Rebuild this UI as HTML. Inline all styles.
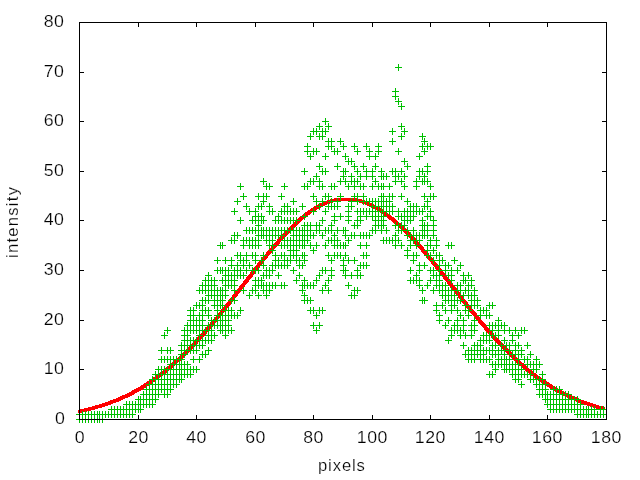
<!DOCTYPE html>
<html lang="en"><head><meta charset="utf-8"><title>intensity vs pixels</title>
<style>html,body{margin:0;padding:0;background:#fff}body{width:640px;height:480px;overflow:hidden}svg{display:block}text{font-family:"Liberation Sans","DejaVu Sans",sans-serif;font-size:16px;fill:#000;stroke:#fff;stroke-width:0.2px}</style></head><body>
<svg width="640" height="480" viewBox="0 0 640 480">
<rect width="640" height="480" fill="#fff"/>
<path d="M78 410h1v3h-1zM79 409h3v4h-3zM82 409h2v3h-2zM84 408h3v4h-3zM87 408h1v3h-1zM88 407h3v4h-3zM91 407h1v3h-1zM92 406h3v4h-3zM95 405h3v4h-3zM98 405h1v3h-1zM99 404h3v4h-3zM102 403h3v4h-3zM105 402h3v4h-3zM108 401h2v4h-2zM110 400h1v5h-1zM111 400h2v4h-2zM113 399h3v4h-3zM116 398h2v4h-2zM118 397h1v5h-1zM119 397h1v4h-1zM120 396h1v5h-1zM121 396h1v4h-1zM122 395h1v5h-1zM123 395h2v4h-2zM125 394h2v4h-2zM127 393h1v5h-1zM128 393h1v4h-1zM129 392h1v5h-1zM130 392h1v4h-1zM131 391h1v5h-1zM132 390h2v5h-2zM134 389h1v5h-1zM135 389h1v4h-1zM136 388h1v5h-1zM137 388h1v4h-1zM138 387h1v5h-1zM139 387h1v4h-1zM140 386h1v5h-1zM141 385h2v5h-2zM143 384h1v5h-1zM144 383h2v5h-2zM146 382h1v5h-1zM147 381h2v5h-2zM149 380h1v5h-1zM150 379h2v5h-2zM152 378h1v5h-1zM153 377h2v5h-2zM155 376h1v5h-1zM156 375h1v5h-1zM157 374h1v6h-1zM158 374h1v5h-1zM159 373h1v5h-1zM160 372h1v5h-1zM161 371h1v6h-1zM162 371h1v5h-1zM163 370h1v5h-1zM164 369h1v5h-1zM165 368h1v6h-1zM166 367h1v6h-1zM167 366h1v6h-1zM168 366h1v5h-1zM169 365h1v5h-1zM170 364h1v5h-1zM171 363h1v6h-1zM172 362h1v6h-1zM173 361h1v6h-1zM174 360h1v6h-1zM175 359h1v6h-1zM176 359h1v5h-1zM177 358h1v5h-1zM178 357h1v5h-1zM179 356h1v6h-1zM180 355h1v6h-1zM181 354h1v6h-1zM182 353h1v6h-1zM183 352h1v6h-1zM184 351h1v6h-1zM185 350h1v6h-1zM186 349h1v6h-1zM187 348h1v6h-1zM188 347h1v6h-1zM189 346h1v6h-1zM190 345h1v6h-1zM191 344h1v6h-1zM192 343h1v6h-1zM193 342h1v6h-1zM194 341h1v6h-1zM195 339h1v7h-1zM196 338h1v7h-1zM197 337h1v7h-1zM198 336h1v6h-1zM199 335h1v6h-1zM200 334h1v6h-1zM201 333h1v6h-1zM202 332h1v6h-1zM203 331h1v6h-1zM204 329h1v7h-1zM205 328h1v7h-1zM206 327h1v7h-1zM207 326h1v6h-1zM208 325h1v6h-1zM209 324h1v6h-1zM210 322h1v7h-1zM211 321h1v7h-1zM212 320h1v7h-1zM213 319h1v6h-1zM214 318h1v6h-1zM215 317h1v6h-1zM216 315h1v7h-1zM217 314h1v7h-1zM218 313h1v6h-1zM219 312h1v6h-1zM220 310h1v7h-1zM221 309h1v7h-1zM222 308h1v7h-1zM223 307h1v6h-1zM224 305h1v7h-1zM225 304h1v7h-1zM226 303h1v7h-1zM227 302h1v6h-1zM228 300h1v7h-1zM229 299h1v7h-1zM230 298h1v7h-1zM231 297h1v6h-1zM232 295h1v7h-1zM233 294h1v7h-1zM234 293h1v7h-1zM235 291h1v7h-1zM236 290h1v7h-1zM237 289h1v7h-1zM238 288h1v6h-1zM239 286h1v7h-1zM240 285h1v7h-1zM241 284h1v7h-1zM242 283h1v6h-1zM243 281h1v7h-1zM244 280h1v7h-1zM245 279h1v6h-1zM246 277h1v7h-1zM247 276h1v7h-1zM248 275h1v7h-1zM249 274h1v6h-1zM250 272h1v7h-1zM251 271h1v7h-1zM252 270h1v7h-1zM253 268h1v7h-1zM254 267h1v7h-1zM255 266h1v7h-1zM256 265h1v6h-1zM257 263h1v7h-1zM258 262h1v7h-1zM259 261h1v7h-1zM260 260h1v6h-1zM261 258h1v7h-1zM262 257h1v7h-1zM263 256h1v7h-1zM264 255h1v6h-1zM265 254h1v6h-1zM266 252h1v7h-1zM267 251h1v7h-1zM268 250h1v6h-1zM269 249h1v6h-1zM270 248h1v6h-1zM271 246h1v7h-1zM272 245h1v7h-1zM273 244h1v6h-1zM274 243h1v6h-1zM275 242h1v6h-1zM276 241h1v6h-1zM277 239h1v7h-1zM278 238h1v7h-1zM279 237h1v7h-1zM280 236h1v6h-1zM281 235h1v6h-1zM282 234h1v6h-1zM283 233h1v6h-1zM284 232h1v6h-1zM285 231h1v6h-1zM286 230h1v6h-1zM287 229h1v6h-1zM288 228h1v6h-1zM289 227h1v6h-1zM290 226h1v6h-1zM291 225h1v6h-1zM292 224h1v6h-1zM293 223h1v6h-1zM294 222h1v6h-1zM295 221h1v6h-1zM296 220h1v6h-1zM297 219h1v6h-1zM298 218h1v6h-1zM299 217h1v6h-1zM300 216h1v6h-1zM301 216h1v5h-1zM302 215h1v5h-1zM303 214h1v5h-1zM304 213h1v6h-1zM305 212h1v6h-1zM306 212h1v5h-1zM307 211h1v5h-1zM308 210h2v5h-2zM310 209h1v5h-1zM311 208h1v5h-1zM312 208h1v4h-1zM313 207h1v5h-1zM314 206h2v5h-2zM316 205h1v5h-1zM317 205h1v4h-1zM318 204h1v5h-1zM319 204h1v4h-1zM320 203h1v5h-1zM321 203h1v4h-1zM322 202h1v5h-1zM323 202h1v4h-1zM324 201h1v5h-1zM325 201h2v4h-2zM327 200h3v4h-3zM330 199h3v4h-3zM333 199h1v3h-1zM334 198h3v4h-3zM337 198h18v3h-18zM355 198h3v4h-3zM358 199h1v3h-1zM359 199h3v4h-3zM362 200h3v4h-3zM365 201h2v4h-2zM367 202h2v4h-2zM369 202h1v5h-1zM370 203h1v4h-1zM371 203h1v5h-1zM372 204h1v4h-1zM373 204h1v5h-1zM374 205h1v4h-1zM375 205h1v5h-1zM376 206h1v4h-1zM377 206h1v5h-1zM378 207h2v5h-2zM380 208h1v5h-1zM381 209h2v5h-2zM383 210h1v5h-1zM384 211h2v5h-2zM386 212h1v5h-1zM387 213h1v5h-1zM388 214h1v5h-1zM389 214h1v6h-1zM390 215h1v5h-1zM391 216h1v5h-1zM392 217h1v5h-1zM393 217h1v6h-1zM394 218h1v6h-1zM395 219h1v6h-1zM396 220h1v6h-1zM397 221h1v5h-1zM398 222h1v5h-1zM399 223h1v5h-1zM400 223h1v6h-1zM401 224h1v6h-1zM402 225h1v6h-1zM403 226h1v6h-1zM404 227h1v6h-1zM405 228h1v6h-1zM406 229h1v6h-1zM407 230h1v6h-1zM408 231h1v6h-1zM409 232h1v6h-1zM410 233h1v6h-1zM411 234h1v6h-1zM412 235h1v6h-1zM413 236h1v7h-1zM414 237h1v7h-1zM415 238h1v7h-1zM416 240h1v6h-1zM417 241h1v6h-1zM418 242h1v6h-1zM419 243h1v6h-1zM420 244h1v6h-1zM421 245h1v7h-1zM422 246h1v7h-1zM423 247h1v7h-1zM424 249h1v6h-1zM425 250h1v6h-1zM426 251h1v7h-1zM427 252h1v7h-1zM428 253h1v7h-1zM429 255h1v6h-1zM430 256h1v6h-1zM431 257h1v7h-1zM432 258h1v7h-1zM433 259h1v7h-1zM434 261h1v6h-1zM435 262h1v7h-1zM436 263h1v7h-1zM437 264h1v7h-1zM438 266h1v6h-1zM439 267h1v7h-1zM440 268h1v7h-1zM441 269h1v7h-1zM442 271h1v6h-1zM443 272h1v7h-1zM444 273h1v7h-1zM445 274h1v7h-1zM446 276h1v6h-1zM447 277h1v7h-1zM448 278h1v7h-1zM449 279h1v7h-1zM450 281h1v7h-1zM451 282h1v7h-1zM452 283h1v7h-1zM453 285h1v6h-1zM454 286h1v7h-1zM455 287h1v7h-1zM456 288h1v7h-1zM457 290h1v6h-1zM458 291h1v7h-1zM459 292h1v7h-1zM460 293h1v7h-1zM461 295h1v7h-1zM462 296h1v7h-1zM463 297h1v7h-1zM464 299h1v6h-1zM465 300h1v7h-1zM466 301h1v7h-1zM467 302h1v7h-1zM468 304h1v6h-1zM469 305h1v7h-1zM470 306h1v7h-1zM471 307h1v7h-1zM472 309h1v6h-1zM473 310h1v6h-1zM474 311h1v7h-1zM475 312h1v7h-1zM476 313h1v7h-1zM477 315h1v6h-1zM478 316h1v7h-1zM479 317h1v7h-1zM480 318h1v7h-1zM481 320h1v6h-1zM482 321h1v6h-1zM483 322h1v6h-1zM484 323h1v7h-1zM485 324h1v7h-1zM486 325h1v7h-1zM487 327h1v6h-1zM488 328h1v6h-1zM489 329h1v6h-1zM490 330h1v6h-1zM491 331h1v7h-1zM492 332h1v7h-1zM493 333h1v7h-1zM494 335h1v6h-1zM495 336h1v6h-1zM496 337h1v6h-1zM497 338h1v6h-1zM498 339h1v6h-1zM499 340h1v6h-1zM500 341h1v6h-1zM501 342h1v6h-1zM502 343h1v6h-1zM503 344h1v6h-1zM504 345h1v6h-1zM505 346h1v6h-1zM506 347h1v6h-1zM507 348h1v6h-1zM508 349h1v6h-1zM509 350h1v6h-1zM510 351h1v6h-1zM511 352h1v6h-1zM512 353h1v6h-1zM513 354h1v6h-1zM514 355h1v6h-1zM515 356h1v6h-1zM516 357h1v6h-1zM517 358h1v6h-1zM518 359h1v6h-1zM519 360h1v6h-1zM520 361h1v5h-1zM521 362h1v5h-1zM522 363h1v5h-1zM523 363h1v6h-1zM524 364h1v6h-1zM525 365h1v6h-1zM526 366h1v6h-1zM527 367h1v5h-1zM528 368h1v5h-1zM529 369h1v5h-1zM530 369h1v6h-1zM531 370h1v6h-1zM532 371h1v5h-1zM533 372h1v5h-1zM534 373h1v5h-1zM535 373h1v6h-1zM536 374h1v5h-1zM537 375h1v5h-1zM538 376h2v5h-2zM540 377h1v5h-1zM541 378h2v5h-2zM543 379h1v5h-1zM544 380h2v5h-2zM546 381h1v5h-1zM547 382h2v5h-2zM549 383h1v5h-1zM550 384h2v5h-2zM552 385h1v5h-1zM553 386h1v4h-1zM554 386h1v5h-1zM555 387h2v5h-2zM557 388h1v5h-1zM558 389h1v4h-1zM559 389h1v5h-1zM560 390h1v4h-1zM561 390h1v5h-1zM562 391h1v4h-1zM563 391h1v5h-1zM564 392h1v4h-1zM565 392h1v5h-1zM566 393h1v4h-1zM567 393h1v5h-1zM568 394h1v4h-1zM569 394h1v5h-1zM570 395h1v4h-1zM571 395h1v5h-1zM572 396h2v4h-2zM574 397h2v4h-2zM576 397h1v5h-1zM577 398h1v4h-1zM578 398h1v5h-1zM579 399h2v4h-2zM581 400h3v4h-3zM584 401h3v4h-3zM587 402h3v4h-3zM590 403h3v4h-3zM593 404h3v4h-3zM596 405h3v4h-3zM599 406h1v3h-1zM600 406h3v4h-3zM603 407h2v3h-2z" fill="#ff0000" shape-rendering="crispEdges"/>
<path d="M76 419.5h7M79.5 416v7M76 414.5h7M79.5 411v7M79 419.5h7M82.5 416v7M79 414.5h7M82.5 411v7M82 419.5h7M85.5 416v7M82 414.5h7M85.5 411v7M85 419.5h7M88.5 416v7M85 414.5h7M88.5 411v7M88 419.5h7M91.5 416v7M88 414.5h7M91.5 411v7M91 419.5h7M94.5 416v7M91 414.5h7M94.5 411v7M94 419.5h7M97.5 416v7M94 414.5h7M97.5 411v7M96 419.5h7M99.5 416v7M96 414.5h7M99.5 411v7M99 419.5h7M102.5 416v7M99 414.5h7M102.5 411v7M102 414.5h7M105.5 411v7M105 414.5h7M108.5 411v7M108 414.5h7M111.5 411v7M108 409.5h7M111.5 406v7M111 414.5h7M114.5 411v7M111 409.5h7M114.5 406v7M114 414.5h7M117.5 411v7M114 409.5h7M117.5 406v7M117 414.5h7M120.5 411v7M117 409.5h7M120.5 406v7M120 414.5h7M123.5 411v7M120 409.5h7M123.5 406v7M123 414.5h7M126.5 411v7M123 409.5h7M126.5 406v7M123 404.5h7M126.5 401v7M126 414.5h7M129.5 411v7M126 409.5h7M129.5 406v7M126 404.5h7M129.5 401v7M129 414.5h7M132.5 411v7M129 409.5h7M132.5 406v7M129 404.5h7M132.5 401v7M132 409.5h7M135.5 406v7M132 404.5h7M135.5 401v7M135 409.5h7M138.5 406v7M135 404.5h7M138.5 401v7M135 399.5h7M138.5 396v7M137 409.5h7M140.5 406v7M137 404.5h7M140.5 401v7M137 399.5h7M140.5 396v7M140 404.5h7M143.5 401v7M140 399.5h7M143.5 396v7M140 394.5h7M143.5 391v7M143 404.5h7M146.5 401v7M143 399.5h7M146.5 396v7M143 394.5h7M146.5 391v7M143 389.5h7M146.5 386v7M146 404.5h7M149.5 401v7M146 399.5h7M149.5 396v7M146 394.5h7M149.5 391v7M146 389.5h7M149.5 386v7M146 384.5h7M149.5 381v7M149 404.5h7M152.5 401v7M149 399.5h7M152.5 396v7M149 394.5h7M152.5 391v7M149 389.5h7M152.5 386v7M149 384.5h7M152.5 381v7M149 379.5h7M152.5 376v7M152 399.5h7M155.5 396v7M152 394.5h7M155.5 391v7M152 389.5h7M155.5 386v7M152 384.5h7M155.5 381v7M152 379.5h7M155.5 376v7M152 374.5h7M155.5 371v7M155 394.5h7M158.5 391v7M155 389.5h7M158.5 386v7M155 384.5h7M158.5 381v7M155 379.5h7M158.5 376v7M155 374.5h7M158.5 371v7M155 369.5h7M158.5 366v7M158 389.5h7M161.5 386v7M158 384.5h7M161.5 381v7M158 379.5h7M161.5 376v7M158 374.5h7M161.5 371v7M158 369.5h7M161.5 366v7M158 359.5h7M161.5 356v7M158 350.5h7M161.5 347v7M161 394.5h7M164.5 391v7M161 389.5h7M164.5 386v7M161 384.5h7M164.5 381v7M161 379.5h7M164.5 376v7M161 374.5h7M164.5 371v7M161 369.5h7M164.5 366v7M161 359.5h7M164.5 356v7M161 335.5h7M164.5 332v7M164 394.5h7M167.5 391v7M164 389.5h7M167.5 386v7M164 384.5h7M167.5 381v7M164 379.5h7M167.5 376v7M164 374.5h7M167.5 371v7M164 369.5h7M167.5 366v7M164 359.5h7M167.5 356v7M164 350.5h7M167.5 347v7M164 330.5h7M167.5 327v7M167 389.5h7M170.5 386v7M167 384.5h7M170.5 381v7M167 379.5h7M170.5 376v7M167 374.5h7M170.5 371v7M167 369.5h7M170.5 366v7M167 364.5h7M170.5 361v7M167 359.5h7M170.5 356v7M167 350.5h7M170.5 347v7M170 384.5h7M173.5 381v7M170 379.5h7M173.5 376v7M170 374.5h7M173.5 371v7M170 369.5h7M173.5 366v7M170 364.5h7M173.5 361v7M170 359.5h7M173.5 356v7M173 384.5h7M176.5 381v7M173 379.5h7M176.5 376v7M173 374.5h7M176.5 371v7M173 369.5h7M176.5 366v7M173 364.5h7M176.5 361v7M173 359.5h7M176.5 356v7M176 379.5h7M179.5 376v7M176 374.5h7M179.5 371v7M176 369.5h7M179.5 366v7M176 364.5h7M179.5 361v7M176 359.5h7M179.5 356v7M178 379.5h7M181.5 376v7M178 374.5h7M181.5 371v7M178 369.5h7M181.5 366v7M178 364.5h7M181.5 361v7M178 359.5h7M181.5 356v7M178 354.5h7M181.5 351v7M178 350.5h7M181.5 347v7M178 345.5h7M181.5 342v7M181 374.5h7M184.5 371v7M181 369.5h7M184.5 366v7M181 364.5h7M184.5 361v7M181 354.5h7M184.5 351v7M181 350.5h7M184.5 347v7M181 345.5h7M184.5 342v7M181 340.5h7M184.5 337v7M181 335.5h7M184.5 332v7M181 330.5h7M184.5 327v7M184 374.5h7M187.5 371v7M184 369.5h7M187.5 366v7M184 364.5h7M187.5 361v7M184 350.5h7M187.5 347v7M184 345.5h7M187.5 342v7M184 340.5h7M187.5 337v7M184 335.5h7M187.5 332v7M184 330.5h7M187.5 327v7M184 325.5h7M187.5 322v7M187 374.5h7M190.5 371v7M187 369.5h7M190.5 366v7M187 350.5h7M190.5 347v7M187 345.5h7M190.5 342v7M187 340.5h7M190.5 337v7M187 330.5h7M190.5 327v7M187 325.5h7M190.5 322v7M187 320.5h7M190.5 317v7M187 315.5h7M190.5 312v7M187 310.5h7M190.5 307v7M190 369.5h7M193.5 366v7M190 359.5h7M193.5 356v7M190 350.5h7M193.5 347v7M190 345.5h7M193.5 342v7M190 340.5h7M193.5 337v7M190 330.5h7M193.5 327v7M190 325.5h7M193.5 322v7M190 320.5h7M193.5 317v7M190 315.5h7M193.5 312v7M190 310.5h7M193.5 307v7M193 369.5h7M196.5 366v7M193 350.5h7M196.5 347v7M193 345.5h7M196.5 342v7M193 340.5h7M196.5 337v7M193 330.5h7M196.5 327v7M193 325.5h7M196.5 322v7M193 320.5h7M196.5 317v7M193 305.5h7M196.5 302v7M196 359.5h7M199.5 356v7M196 345.5h7M199.5 342v7M196 340.5h7M199.5 337v7M196 335.5h7M199.5 332v7M196 330.5h7M199.5 327v7M196 325.5h7M199.5 322v7M196 320.5h7M199.5 317v7M196 315.5h7M199.5 312v7M196 305.5h7M199.5 302v7M196 290.5h7M199.5 287v7M199 354.5h7M202.5 351v7M199 345.5h7M202.5 342v7M199 340.5h7M202.5 337v7M199 330.5h7M202.5 327v7M199 325.5h7M202.5 322v7M199 320.5h7M202.5 317v7M199 315.5h7M202.5 312v7M199 310.5h7M202.5 307v7M199 305.5h7M202.5 302v7M199 300.5h7M202.5 297v7M199 290.5h7M202.5 287v7M199 285.5h7M202.5 282v7M202 354.5h7M205.5 351v7M202 340.5h7M205.5 337v7M202 330.5h7M205.5 327v7M202 310.5h7M205.5 307v7M202 300.5h7M205.5 297v7M202 290.5h7M205.5 287v7M202 285.5h7M205.5 282v7M202 280.5h7M205.5 277v7M205 350.5h7M208.5 347v7M205 340.5h7M208.5 337v7M205 335.5h7M208.5 332v7M205 330.5h7M208.5 327v7M205 325.5h7M208.5 322v7M205 315.5h7M208.5 312v7M205 310.5h7M208.5 307v7M205 300.5h7M208.5 297v7M205 295.5h7M208.5 292v7M205 290.5h7M208.5 287v7M205 285.5h7M208.5 282v7M205 280.5h7M208.5 277v7M205 275.5h7M208.5 272v7M208 340.5h7M211.5 337v7M208 335.5h7M211.5 332v7M208 330.5h7M211.5 327v7M208 325.5h7M211.5 322v7M208 320.5h7M211.5 317v7M208 295.5h7M211.5 292v7M208 290.5h7M211.5 287v7M208 285.5h7M211.5 282v7M208 280.5h7M211.5 277v7M211 335.5h7M214.5 332v7M211 325.5h7M214.5 322v7M211 320.5h7M214.5 317v7M211 305.5h7M214.5 302v7M211 300.5h7M214.5 297v7M211 295.5h7M214.5 292v7M211 290.5h7M214.5 287v7M211 285.5h7M214.5 282v7M211 280.5h7M214.5 277v7M214 325.5h7M217.5 322v7M214 320.5h7M217.5 317v7M214 315.5h7M217.5 312v7M214 310.5h7M217.5 307v7M214 305.5h7M217.5 302v7M214 300.5h7M217.5 297v7M214 295.5h7M217.5 292v7M214 290.5h7M217.5 287v7M214 270.5h7M217.5 267v7M214 260.5h7M217.5 257v7M217 330.5h7M220.5 327v7M217 325.5h7M220.5 322v7M217 320.5h7M220.5 317v7M217 315.5h7M220.5 312v7M217 305.5h7M220.5 302v7M217 300.5h7M220.5 297v7M217 295.5h7M220.5 292v7M217 290.5h7M220.5 287v7M217 270.5h7M220.5 267v7M217 245.5h7M220.5 242v7M219 330.5h7M222.5 327v7M219 325.5h7M222.5 322v7M219 320.5h7M222.5 317v7M219 315.5h7M222.5 312v7M219 305.5h7M222.5 302v7M219 300.5h7M222.5 297v7M219 295.5h7M222.5 292v7M219 290.5h7M222.5 287v7M219 280.5h7M222.5 277v7M219 270.5h7M222.5 267v7M219 245.5h7M222.5 242v7M222 335.5h7M225.5 332v7M222 330.5h7M225.5 327v7M222 325.5h7M225.5 322v7M222 320.5h7M225.5 317v7M222 315.5h7M225.5 312v7M222 310.5h7M225.5 307v7M222 295.5h7M225.5 292v7M222 290.5h7M225.5 287v7M222 285.5h7M225.5 282v7M222 280.5h7M225.5 277v7M222 275.5h7M225.5 272v7M222 270.5h7M225.5 267v7M222 260.5h7M225.5 257v7M225 330.5h7M228.5 327v7M225 325.5h7M228.5 322v7M225 320.5h7M228.5 317v7M225 315.5h7M228.5 312v7M225 310.5h7M228.5 307v7M225 285.5h7M228.5 282v7M225 280.5h7M228.5 277v7M225 275.5h7M228.5 272v7M225 270.5h7M228.5 267v7M228 330.5h7M231.5 327v7M228 315.5h7M231.5 312v7M228 310.5h7M231.5 307v7M228 300.5h7M231.5 297v7M228 285.5h7M231.5 282v7M228 280.5h7M231.5 277v7M228 275.5h7M231.5 272v7M228 265.5h7M231.5 262v7M228 260.5h7M231.5 257v7M228 240.5h7M231.5 237v7M231 315.5h7M234.5 312v7M231 300.5h7M234.5 297v7M231 290.5h7M234.5 287v7M231 285.5h7M234.5 282v7M231 280.5h7M234.5 277v7M231 275.5h7M234.5 272v7M231 270.5h7M234.5 267v7M231 240.5h7M234.5 237v7M231 235.5h7M234.5 232v7M231 211.5h7M234.5 208v7M234 315.5h7M237.5 312v7M234 275.5h7M237.5 272v7M234 270.5h7M237.5 267v7M234 265.5h7M237.5 262v7M234 255.5h7M237.5 252v7M234 235.5h7M237.5 232v7M234 201.5h7M237.5 198v7M237 310.5h7M240.5 307v7M237 275.5h7M240.5 272v7M237 270.5h7M240.5 267v7M237 260.5h7M240.5 257v7M237 255.5h7M240.5 252v7M237 220.5h7M240.5 217v7M237 186.5h7M240.5 183v7M240 290.5h7M243.5 287v7M240 275.5h7M243.5 272v7M240 265.5h7M243.5 262v7M240 260.5h7M243.5 257v7M240 245.5h7M243.5 242v7M240 240.5h7M243.5 237v7M240 196.5h7M243.5 193v7M243 270.5h7M246.5 267v7M243 260.5h7M246.5 257v7M243 255.5h7M246.5 252v7M243 240.5h7M246.5 237v7M243 230.5h7M246.5 227v7M243 206.5h7M246.5 203v7M246 295.5h7M249.5 292v7M246 265.5h7M249.5 262v7M246 245.5h7M249.5 242v7M246 240.5h7M249.5 237v7M246 230.5h7M249.5 227v7M246 211.5h7M249.5 208v7M249 290.5h7M252.5 287v7M249 270.5h7M252.5 267v7M249 255.5h7M252.5 252v7M249 245.5h7M252.5 242v7M249 240.5h7M252.5 237v7M249 230.5h7M252.5 227v7M249 220.5h7M252.5 217v7M252 290.5h7M255.5 287v7M252 285.5h7M255.5 282v7M252 280.5h7M255.5 277v7M252 270.5h7M255.5 267v7M252 260.5h7M255.5 257v7M252 255.5h7M255.5 252v7M252 245.5h7M255.5 242v7M252 240.5h7M255.5 237v7M252 230.5h7M255.5 227v7M252 220.5h7M255.5 217v7M252 216.5h7M255.5 213v7M252 211.5h7M255.5 208v7M255 295.5h7M258.5 292v7M255 285.5h7M258.5 282v7M255 280.5h7M258.5 277v7M255 270.5h7M258.5 267v7M255 245.5h7M258.5 242v7M255 240.5h7M258.5 237v7M255 235.5h7M258.5 232v7M255 230.5h7M258.5 227v7M255 225.5h7M258.5 222v7M255 220.5h7M258.5 217v7M255 216.5h7M258.5 213v7M255 206.5h7M258.5 203v7M255 196.5h7M258.5 193v7M258 285.5h7M261.5 282v7M258 280.5h7M261.5 277v7M258 260.5h7M261.5 257v7M258 235.5h7M261.5 232v7M258 230.5h7M261.5 227v7M258 220.5h7M261.5 217v7M258 216.5h7M261.5 213v7M258 206.5h7M261.5 203v7M260 290.5h7M263.5 287v7M260 285.5h7M263.5 282v7M260 275.5h7M263.5 272v7M260 265.5h7M263.5 262v7M260 255.5h7M263.5 252v7M260 235.5h7M263.5 232v7M260 230.5h7M263.5 227v7M260 220.5h7M263.5 217v7M260 201.5h7M263.5 198v7M260 196.5h7M263.5 193v7M260 181.5h7M263.5 178v7M263 295.5h7M266.5 292v7M263 290.5h7M266.5 287v7M263 285.5h7M266.5 282v7M263 275.5h7M266.5 272v7M263 270.5h7M266.5 267v7M263 240.5h7M266.5 237v7M263 235.5h7M266.5 232v7M263 230.5h7M266.5 227v7M263 196.5h7M266.5 193v7M263 186.5h7M266.5 183v7M266 290.5h7M269.5 287v7M266 285.5h7M269.5 282v7M266 275.5h7M269.5 272v7M266 270.5h7M269.5 267v7M266 245.5h7M269.5 242v7M266 240.5h7M269.5 237v7M266 235.5h7M269.5 232v7M266 230.5h7M269.5 227v7M266 211.5h7M269.5 208v7M266 206.5h7M269.5 203v7M266 186.5h7M269.5 183v7M269 285.5h7M272.5 282v7M269 270.5h7M272.5 267v7M269 265.5h7M272.5 262v7M269 250.5h7M272.5 247v7M269 245.5h7M272.5 242v7M269 240.5h7M272.5 237v7M269 235.5h7M272.5 232v7M269 230.5h7M272.5 227v7M269 211.5h7M272.5 208v7M272 285.5h7M275.5 282v7M272 265.5h7M275.5 262v7M272 260.5h7M275.5 257v7M272 255.5h7M275.5 252v7M272 235.5h7M275.5 232v7M272 230.5h7M275.5 227v7M272 220.5h7M275.5 217v7M275 275.5h7M278.5 272v7M275 265.5h7M278.5 262v7M275 260.5h7M278.5 257v7M275 235.5h7M278.5 232v7M275 230.5h7M278.5 227v7M275 220.5h7M278.5 217v7M275 216.5h7M278.5 213v7M278 285.5h7M281.5 282v7M278 265.5h7M281.5 262v7M278 255.5h7M281.5 252v7M278 245.5h7M281.5 242v7M278 235.5h7M281.5 232v7M278 230.5h7M281.5 227v7M278 220.5h7M281.5 217v7M278 211.5h7M281.5 208v7M278 196.5h7M281.5 193v7M281 285.5h7M284.5 282v7M281 265.5h7M284.5 262v7M281 260.5h7M284.5 257v7M281 255.5h7M284.5 252v7M281 245.5h7M284.5 242v7M281 240.5h7M284.5 237v7M281 230.5h7M284.5 227v7M281 220.5h7M284.5 217v7M281 211.5h7M284.5 208v7M281 206.5h7M284.5 203v7M281 186.5h7M284.5 183v7M284 265.5h7M287.5 262v7M284 260.5h7M287.5 257v7M284 245.5h7M287.5 242v7M284 240.5h7M287.5 237v7M284 230.5h7M287.5 227v7M284 220.5h7M287.5 217v7M284 211.5h7M287.5 208v7M284 206.5h7M287.5 203v7M287 260.5h7M290.5 257v7M287 255.5h7M290.5 252v7M287 250.5h7M290.5 247v7M287 245.5h7M290.5 242v7M287 240.5h7M290.5 237v7M287 230.5h7M290.5 227v7M287 220.5h7M290.5 217v7M287 211.5h7M290.5 208v7M290 270.5h7M293.5 267v7M290 255.5h7M293.5 252v7M290 250.5h7M293.5 247v7M290 245.5h7M293.5 242v7M290 240.5h7M293.5 237v7M290 235.5h7M293.5 232v7M290 230.5h7M293.5 227v7M290 220.5h7M293.5 217v7M290 211.5h7M293.5 208v7M290 201.5h7M293.5 198v7M293 280.5h7M296.5 277v7M293 260.5h7M296.5 257v7M293 255.5h7M296.5 252v7M293 250.5h7M296.5 247v7M293 245.5h7M296.5 242v7M293 240.5h7M296.5 237v7M293 235.5h7M296.5 232v7M293 230.5h7M296.5 227v7M293 220.5h7M296.5 217v7M293 211.5h7M296.5 208v7M296 275.5h7M299.5 272v7M296 265.5h7M299.5 262v7M296 260.5h7M299.5 257v7M296 245.5h7M299.5 242v7M296 240.5h7M299.5 237v7M296 235.5h7M299.5 232v7M296 230.5h7M299.5 227v7M299 290.5h7M302.5 287v7M299 285.5h7M302.5 282v7M299 265.5h7M302.5 262v7M299 255.5h7M302.5 252v7M299 245.5h7M302.5 242v7M299 240.5h7M302.5 237v7M299 235.5h7M302.5 232v7M299 230.5h7M302.5 227v7M299 206.5h7M302.5 203v7M301 300.5h7M304.5 297v7M301 295.5h7M304.5 292v7M301 285.5h7M304.5 282v7M301 280.5h7M304.5 277v7M301 260.5h7M304.5 257v7M301 255.5h7M304.5 252v7M301 245.5h7M304.5 242v7M301 240.5h7M304.5 237v7M301 235.5h7M304.5 232v7M301 230.5h7M304.5 227v7M301 225.5h7M304.5 222v7M301 216.5h7M304.5 213v7M301 186.5h7M304.5 183v7M301 171.5h7M304.5 168v7M304 300.5h7M307.5 297v7M304 285.5h7M307.5 282v7M304 240.5h7M307.5 237v7M304 235.5h7M307.5 232v7M304 230.5h7M307.5 227v7M304 225.5h7M307.5 222v7M304 186.5h7M307.5 183v7M304 151.5h7M307.5 148v7M304 146.5h7M307.5 143v7M307 310.5h7M310.5 307v7M307 300.5h7M310.5 297v7M307 285.5h7M310.5 282v7M307 245.5h7M310.5 242v7M307 235.5h7M310.5 232v7M307 230.5h7M310.5 227v7M307 225.5h7M310.5 222v7M307 181.5h7M310.5 178v7M307 156.5h7M310.5 153v7M307 136.5h7M310.5 133v7M310 325.5h7M313.5 322v7M310 310.5h7M313.5 307v7M310 285.5h7M313.5 282v7M310 250.5h7M313.5 247v7M310 235.5h7M313.5 232v7M310 211.5h7M313.5 208v7M310 196.5h7M313.5 193v7M310 181.5h7M313.5 178v7M310 151.5h7M313.5 148v7M310 131.5h7M313.5 128v7M313 330.5h7M316.5 327v7M313 315.5h7M316.5 312v7M313 280.5h7M316.5 277v7M313 245.5h7M316.5 242v7M313 230.5h7M316.5 227v7M313 225.5h7M316.5 222v7M313 201.5h7M316.5 198v7M313 176.5h7M316.5 173v7M313 151.5h7M316.5 148v7M313 131.5h7M316.5 128v7M316 325.5h7M319.5 322v7M316 310.5h7M319.5 307v7M316 275.5h7M319.5 272v7M316 230.5h7M319.5 227v7M316 225.5h7M319.5 222v7M316 206.5h7M319.5 203v7M316 186.5h7M319.5 183v7M316 181.5h7M319.5 178v7M316 166.5h7M319.5 163v7M316 136.5h7M319.5 133v7M316 126.5h7M319.5 123v7M319 310.5h7M322.5 307v7M319 290.5h7M322.5 287v7M319 270.5h7M322.5 267v7M319 235.5h7M322.5 232v7M319 220.5h7M322.5 217v7M319 201.5h7M322.5 198v7M319 186.5h7M322.5 183v7M319 171.5h7M322.5 168v7M319 136.5h7M322.5 133v7M319 131.5h7M322.5 128v7M322 285.5h7M325.5 282v7M322 270.5h7M325.5 267v7M322 245.5h7M325.5 242v7M322 230.5h7M325.5 227v7M322 211.5h7M325.5 208v7M322 196.5h7M325.5 193v7M322 171.5h7M325.5 168v7M322 156.5h7M325.5 153v7M322 131.5h7M325.5 128v7M322 121.5h7M325.5 118v7M325 290.5h7M328.5 287v7M325 280.5h7M328.5 277v7M325 255.5h7M328.5 252v7M325 240.5h7M328.5 237v7M325 230.5h7M328.5 227v7M325 206.5h7M328.5 203v7M325 196.5h7M328.5 193v7M325 146.5h7M328.5 143v7M325 141.5h7M328.5 138v7M325 126.5h7M328.5 123v7M328 275.5h7M331.5 272v7M328 270.5h7M331.5 267v7M328 260.5h7M331.5 257v7M328 240.5h7M331.5 237v7M328 230.5h7M331.5 227v7M328 225.5h7M331.5 222v7M328 206.5h7M331.5 203v7M328 201.5h7M331.5 198v7M328 186.5h7M331.5 183v7M328 146.5h7M331.5 143v7M328 141.5h7M331.5 138v7M331 255.5h7M334.5 252v7M331 245.5h7M334.5 242v7M331 240.5h7M334.5 237v7M331 235.5h7M334.5 232v7M331 220.5h7M334.5 217v7M331 216.5h7M334.5 213v7M331 206.5h7M334.5 203v7M331 186.5h7M334.5 183v7M331 151.5h7M334.5 148v7M334 255.5h7M337.5 252v7M334 245.5h7M337.5 242v7M334 240.5h7M337.5 237v7M334 230.5h7M337.5 227v7M334 206.5h7M337.5 203v7M334 201.5h7M337.5 198v7M334 166.5h7M337.5 163v7M334 151.5h7M337.5 148v7M337 255.5h7M340.5 252v7M337 245.5h7M340.5 242v7M337 216.5h7M340.5 213v7M337 196.5h7M340.5 193v7M337 181.5h7M340.5 178v7M337 141.5h7M340.5 138v7M340 270.5h7M343.5 267v7M340 265.5h7M343.5 262v7M340 260.5h7M343.5 257v7M340 245.5h7M343.5 242v7M340 230.5h7M343.5 227v7M340 176.5h7M343.5 173v7M340 171.5h7M343.5 168v7M340 146.5h7M343.5 143v7M342 275.5h7M345.5 272v7M342 270.5h7M345.5 267v7M342 255.5h7M345.5 252v7M342 245.5h7M345.5 242v7M342 235.5h7M345.5 232v7M342 230.5h7M345.5 227v7M342 181.5h7M345.5 178v7M342 171.5h7M345.5 168v7M342 156.5h7M345.5 153v7M345 285.5h7M348.5 282v7M345 260.5h7M348.5 257v7M345 240.5h7M348.5 237v7M345 220.5h7M348.5 217v7M345 216.5h7M348.5 213v7M345 211.5h7M348.5 208v7M345 206.5h7M348.5 203v7M345 186.5h7M348.5 183v7M345 161.5h7M348.5 158v7M348 295.5h7M351.5 292v7M348 275.5h7M351.5 272v7M348 235.5h7M351.5 232v7M348 206.5h7M351.5 203v7M348 201.5h7M351.5 198v7M348 181.5h7M351.5 178v7M348 176.5h7M351.5 173v7M348 161.5h7M351.5 158v7M351 295.5h7M354.5 292v7M351 290.5h7M354.5 287v7M351 260.5h7M354.5 257v7M351 235.5h7M354.5 232v7M351 225.5h7M354.5 222v7M351 196.5h7M354.5 193v7M351 186.5h7M354.5 183v7M351 181.5h7M354.5 178v7M351 166.5h7M354.5 163v7M351 146.5h7M354.5 143v7M354 290.5h7M357.5 287v7M354 275.5h7M357.5 272v7M354 270.5h7M357.5 267v7M354 225.5h7M357.5 222v7M354 220.5h7M357.5 217v7M354 211.5h7M357.5 208v7M354 201.5h7M357.5 198v7M354 196.5h7M357.5 193v7M354 181.5h7M357.5 178v7M354 171.5h7M357.5 168v7M354 151.5h7M357.5 148v7M357 275.5h7M360.5 272v7M357 265.5h7M360.5 262v7M357 245.5h7M360.5 242v7M357 235.5h7M360.5 232v7M357 220.5h7M360.5 217v7M357 216.5h7M360.5 213v7M357 211.5h7M360.5 208v7M357 186.5h7M360.5 183v7M357 176.5h7M360.5 173v7M360 265.5h7M363.5 262v7M360 255.5h7M363.5 252v7M360 235.5h7M363.5 232v7M360 211.5h7M363.5 208v7M360 201.5h7M363.5 198v7M360 196.5h7M363.5 193v7M360 186.5h7M363.5 183v7M360 166.5h7M363.5 163v7M363 265.5h7M366.5 262v7M363 255.5h7M366.5 252v7M363 245.5h7M366.5 242v7M363 235.5h7M366.5 232v7M363 216.5h7M366.5 213v7M363 211.5h7M366.5 208v7M363 201.5h7M366.5 198v7M363 176.5h7M366.5 173v7M363 171.5h7M366.5 168v7M363 146.5h7M366.5 143v7M366 235.5h7M369.5 232v7M366 211.5h7M369.5 208v7M366 201.5h7M369.5 198v7M366 156.5h7M369.5 153v7M366 151.5h7M369.5 148v7M369 230.5h7M372.5 227v7M369 216.5h7M372.5 213v7M369 211.5h7M372.5 208v7M369 206.5h7M372.5 203v7M369 201.5h7M372.5 198v7M369 186.5h7M372.5 183v7M369 176.5h7M372.5 173v7M369 171.5h7M372.5 168v7M372 230.5h7M375.5 227v7M372 225.5h7M375.5 222v7M372 220.5h7M375.5 217v7M372 216.5h7M375.5 213v7M372 211.5h7M375.5 208v7M372 206.5h7M375.5 203v7M372 201.5h7M375.5 198v7M372 181.5h7M375.5 178v7M372 166.5h7M375.5 163v7M372 156.5h7M375.5 153v7M375 225.5h7M378.5 222v7M375 220.5h7M378.5 217v7M375 216.5h7M378.5 213v7M375 211.5h7M378.5 208v7M375 206.5h7M378.5 203v7M375 201.5h7M378.5 198v7M375 186.5h7M378.5 183v7M375 151.5h7M378.5 148v7M375 146.5h7M378.5 143v7M378 230.5h7M381.5 227v7M378 225.5h7M381.5 222v7M378 220.5h7M381.5 217v7M378 216.5h7M381.5 213v7M378 211.5h7M381.5 208v7M378 206.5h7M381.5 203v7M378 201.5h7M381.5 198v7M378 196.5h7M381.5 193v7M378 186.5h7M381.5 183v7M378 176.5h7M381.5 173v7M378 171.5h7M381.5 168v7M380 240.5h7M383.5 237v7M380 225.5h7M383.5 222v7M380 220.5h7M383.5 217v7M380 216.5h7M383.5 213v7M380 211.5h7M383.5 208v7M380 206.5h7M383.5 203v7M380 201.5h7M383.5 198v7M380 196.5h7M383.5 193v7M380 186.5h7M383.5 183v7M380 176.5h7M383.5 173v7M383 240.5h7M386.5 237v7M383 230.5h7M386.5 227v7M383 211.5h7M386.5 208v7M383 206.5h7M386.5 203v7M383 201.5h7M386.5 198v7M383 176.5h7M386.5 173v7M386 240.5h7M389.5 237v7M386 211.5h7M389.5 208v7M386 206.5h7M389.5 203v7M386 201.5h7M389.5 198v7M386 196.5h7M389.5 193v7M386 186.5h7M389.5 183v7M389 240.5h7M392.5 237v7M389 211.5h7M392.5 208v7M389 206.5h7M392.5 203v7M389 196.5h7M392.5 193v7M389 171.5h7M392.5 168v7M389 141.5h7M392.5 138v7M389 131.5h7M392.5 128v7M392 245.5h7M395.5 242v7M392 240.5h7M395.5 237v7M392 235.5h7M395.5 232v7M392 225.5h7M395.5 222v7M392 181.5h7M395.5 178v7M392 176.5h7M395.5 173v7M392 171.5h7M395.5 168v7M392 96.5h7M395.5 93v7M392 91.5h7M395.5 88v7M395 240.5h7M398.5 237v7M395 230.5h7M398.5 227v7M395 225.5h7M398.5 222v7M395 216.5h7M398.5 213v7M395 211.5h7M398.5 208v7M395 176.5h7M398.5 173v7M395 151.5h7M398.5 148v7M395 101.5h7M398.5 98v7M395 67.5h7M398.5 64v7M398 245.5h7M401.5 242v7M398 230.5h7M401.5 227v7M398 225.5h7M401.5 222v7M398 216.5h7M401.5 213v7M398 196.5h7M401.5 193v7M398 181.5h7M401.5 178v7M398 171.5h7M401.5 168v7M398 136.5h7M401.5 133v7M398 126.5h7M401.5 123v7M398 106.5h7M401.5 103v7M401 225.5h7M404.5 222v7M401 220.5h7M404.5 217v7M401 216.5h7M404.5 213v7M401 211.5h7M404.5 208v7M401 186.5h7M404.5 183v7M401 176.5h7M404.5 173v7M401 161.5h7M404.5 158v7M401 131.5h7M404.5 128v7M404 255.5h7M407.5 252v7M404 250.5h7M407.5 247v7M404 235.5h7M407.5 232v7M404 230.5h7M407.5 227v7M404 220.5h7M407.5 217v7M404 216.5h7M407.5 213v7M404 211.5h7M407.5 208v7M404 201.5h7M407.5 198v7M404 166.5h7M407.5 163v7M407 280.5h7M410.5 277v7M407 270.5h7M410.5 267v7M407 245.5h7M410.5 242v7M407 240.5h7M410.5 237v7M407 235.5h7M410.5 232v7M407 220.5h7M410.5 217v7M407 216.5h7M410.5 213v7M407 211.5h7M410.5 208v7M407 206.5h7M410.5 203v7M410 280.5h7M413.5 277v7M410 260.5h7M413.5 257v7M410 255.5h7M413.5 252v7M410 240.5h7M413.5 237v7M410 235.5h7M413.5 232v7M410 230.5h7M413.5 227v7M410 216.5h7M413.5 213v7M410 211.5h7M413.5 208v7M410 206.5h7M413.5 203v7M413 280.5h7M416.5 277v7M413 275.5h7M416.5 272v7M413 255.5h7M416.5 252v7M413 245.5h7M416.5 242v7M413 240.5h7M416.5 237v7M413 235.5h7M416.5 232v7M413 211.5h7M416.5 208v7M413 206.5h7M416.5 203v7M413 186.5h7M416.5 183v7M413 181.5h7M416.5 178v7M416 285.5h7M419.5 282v7M416 280.5h7M419.5 277v7M416 270.5h7M419.5 267v7M416 265.5h7M419.5 262v7M416 240.5h7M419.5 237v7M416 235.5h7M419.5 232v7M416 211.5h7M419.5 208v7M416 176.5h7M419.5 173v7M416 171.5h7M419.5 168v7M416 156.5h7M419.5 153v7M419 300.5h7M422.5 297v7M419 290.5h7M422.5 287v7M419 235.5h7M422.5 232v7M419 230.5h7M422.5 227v7M419 225.5h7M422.5 222v7M419 220.5h7M422.5 217v7M419 211.5h7M422.5 208v7M419 181.5h7M422.5 178v7M419 171.5h7M422.5 168v7M419 146.5h7M422.5 143v7M419 136.5h7M422.5 133v7M421 300.5h7M424.5 297v7M421 265.5h7M424.5 262v7M421 235.5h7M424.5 232v7M421 230.5h7M424.5 227v7M421 225.5h7M424.5 222v7M421 206.5h7M424.5 203v7M421 196.5h7M424.5 193v7M421 181.5h7M424.5 178v7M421 176.5h7M424.5 173v7M421 151.5h7M424.5 148v7M421 141.5h7M424.5 138v7M424 285.5h7M427.5 282v7M424 255.5h7M427.5 252v7M424 250.5h7M427.5 247v7M424 245.5h7M427.5 242v7M424 235.5h7M427.5 232v7M424 230.5h7M427.5 227v7M424 225.5h7M427.5 222v7M424 216.5h7M427.5 213v7M424 206.5h7M427.5 203v7M424 201.5h7M427.5 198v7M424 181.5h7M427.5 178v7M424 171.5h7M427.5 168v7M424 166.5h7M427.5 163v7M424 146.5h7M427.5 143v7M427 280.5h7M430.5 277v7M427 270.5h7M430.5 267v7M427 255.5h7M430.5 252v7M427 245.5h7M430.5 242v7M427 240.5h7M430.5 237v7M427 216.5h7M430.5 213v7M427 211.5h7M430.5 208v7M427 196.5h7M430.5 193v7M427 186.5h7M430.5 183v7M427 146.5h7M430.5 143v7M430 290.5h7M433.5 287v7M430 275.5h7M433.5 272v7M430 270.5h7M433.5 267v7M430 260.5h7M433.5 257v7M430 250.5h7M433.5 247v7M430 235.5h7M433.5 232v7M430 230.5h7M433.5 227v7M430 225.5h7M433.5 222v7M430 220.5h7M433.5 217v7M430 196.5h7M433.5 193v7M433 310.5h7M436.5 307v7M433 305.5h7M436.5 302v7M433 285.5h7M436.5 282v7M433 280.5h7M436.5 277v7M433 275.5h7M436.5 272v7M433 255.5h7M436.5 252v7M433 245.5h7M436.5 242v7M433 240.5h7M436.5 237v7M436 320.5h7M439.5 317v7M436 315.5h7M439.5 312v7M436 290.5h7M439.5 287v7M436 285.5h7M439.5 282v7M436 280.5h7M439.5 277v7M436 275.5h7M439.5 272v7M436 270.5h7M439.5 267v7M436 265.5h7M439.5 262v7M436 260.5h7M439.5 257v7M436 255.5h7M439.5 252v7M439 305.5h7M442.5 302v7M439 295.5h7M442.5 292v7M439 290.5h7M442.5 287v7M439 285.5h7M442.5 282v7M439 260.5h7M442.5 257v7M442 325.5h7M445.5 322v7M442 310.5h7M445.5 307v7M442 300.5h7M445.5 297v7M442 295.5h7M445.5 292v7M442 290.5h7M445.5 287v7M442 285.5h7M445.5 282v7M442 270.5h7M445.5 267v7M442 265.5h7M445.5 262v7M445 340.5h7M448.5 337v7M445 320.5h7M448.5 317v7M445 300.5h7M448.5 297v7M445 295.5h7M448.5 292v7M445 290.5h7M448.5 287v7M445 275.5h7M448.5 272v7M445 265.5h7M448.5 262v7M445 245.5h7M448.5 242v7M448 335.5h7M451.5 332v7M448 330.5h7M451.5 327v7M448 310.5h7M451.5 307v7M448 305.5h7M451.5 302v7M448 300.5h7M451.5 297v7M448 295.5h7M451.5 292v7M448 290.5h7M451.5 287v7M448 280.5h7M451.5 277v7M448 275.5h7M451.5 272v7M448 270.5h7M451.5 267v7M448 245.5h7M451.5 242v7M451 330.5h7M454.5 327v7M451 325.5h7M454.5 322v7M451 305.5h7M454.5 302v7M451 300.5h7M454.5 297v7M451 295.5h7M454.5 292v7M451 260.5h7M454.5 257v7M454 330.5h7M457.5 327v7M454 325.5h7M457.5 322v7M454 320.5h7M457.5 317v7M454 310.5h7M457.5 307v7M454 300.5h7M457.5 297v7M454 290.5h7M457.5 287v7M454 285.5h7M457.5 282v7M454 270.5h7M457.5 267v7M457 335.5h7M460.5 332v7M457 330.5h7M460.5 327v7M457 315.5h7M460.5 312v7M457 300.5h7M460.5 297v7M457 290.5h7M460.5 287v7M457 285.5h7M460.5 282v7M457 265.5h7M460.5 262v7M460 345.5h7M463.5 342v7M460 330.5h7M463.5 327v7M460 325.5h7M463.5 322v7M460 320.5h7M463.5 317v7M460 295.5h7M463.5 292v7M460 280.5h7M463.5 277v7M460 275.5h7M463.5 272v7M462 354.5h7M465.5 351v7M462 335.5h7M465.5 332v7M462 310.5h7M465.5 307v7M462 305.5h7M465.5 302v7M462 290.5h7M465.5 287v7M462 280.5h7M465.5 277v7M465 359.5h7M468.5 356v7M465 354.5h7M468.5 351v7M465 350.5h7M468.5 347v7M465 315.5h7M468.5 312v7M465 310.5h7M468.5 307v7M465 295.5h7M468.5 292v7M465 290.5h7M468.5 287v7M465 285.5h7M468.5 282v7M465 275.5h7M468.5 272v7M468 359.5h7M471.5 356v7M468 354.5h7M471.5 351v7M468 350.5h7M471.5 347v7M468 335.5h7M471.5 332v7M468 330.5h7M471.5 327v7M468 325.5h7M471.5 322v7M468 305.5h7M471.5 302v7M468 300.5h7M471.5 297v7M468 295.5h7M471.5 292v7M468 285.5h7M471.5 282v7M468 280.5h7M471.5 277v7M471 359.5h7M474.5 356v7M471 354.5h7M474.5 351v7M471 350.5h7M474.5 347v7M471 345.5h7M474.5 342v7M471 330.5h7M474.5 327v7M471 325.5h7M474.5 322v7M471 320.5h7M474.5 317v7M471 305.5h7M474.5 302v7M471 300.5h7M474.5 297v7M471 295.5h7M474.5 292v7M471 290.5h7M474.5 287v7M474 354.5h7M477.5 351v7M474 350.5h7M477.5 347v7M474 345.5h7M477.5 342v7M474 305.5h7M477.5 302v7M474 300.5h7M477.5 297v7M477 359.5h7M480.5 356v7M477 354.5h7M480.5 351v7M477 350.5h7M480.5 347v7M477 345.5h7M480.5 342v7M477 340.5h7M480.5 337v7M477 315.5h7M480.5 312v7M477 310.5h7M480.5 307v7M480 359.5h7M483.5 356v7M480 354.5h7M483.5 351v7M480 350.5h7M483.5 347v7M480 340.5h7M483.5 337v7M480 335.5h7M483.5 332v7M480 310.5h7M483.5 307v7M483 359.5h7M486.5 356v7M483 350.5h7M486.5 347v7M483 340.5h7M486.5 337v7M483 335.5h7M486.5 332v7M483 315.5h7M486.5 312v7M483 310.5h7M486.5 307v7M486 374.5h7M489.5 371v7M486 359.5h7M489.5 356v7M486 350.5h7M489.5 347v7M486 340.5h7M489.5 337v7M486 335.5h7M489.5 332v7M486 325.5h7M489.5 322v7M486 315.5h7M489.5 312v7M486 305.5h7M489.5 302v7M489 374.5h7M492.5 371v7M489 364.5h7M492.5 361v7M489 354.5h7M492.5 351v7M489 350.5h7M492.5 347v7M489 345.5h7M492.5 342v7M489 335.5h7M492.5 332v7M489 330.5h7M492.5 327v7M489 325.5h7M492.5 322v7M489 305.5h7M492.5 302v7M492 369.5h7M495.5 366v7M492 364.5h7M495.5 361v7M492 354.5h7M495.5 351v7M492 345.5h7M495.5 342v7M492 335.5h7M495.5 332v7M492 325.5h7M495.5 322v7M495 364.5h7M498.5 361v7M495 359.5h7M498.5 356v7M495 354.5h7M498.5 351v7M495 350.5h7M498.5 347v7M495 335.5h7M498.5 332v7M495 330.5h7M498.5 327v7M495 325.5h7M498.5 322v7M495 320.5h7M498.5 317v7M498 364.5h7M501.5 361v7M498 359.5h7M501.5 356v7M498 350.5h7M501.5 347v7M498 345.5h7M501.5 342v7M498 325.5h7M501.5 322v7M501 369.5h7M504.5 366v7M501 364.5h7M504.5 361v7M501 359.5h7M504.5 356v7M501 354.5h7M504.5 351v7M501 350.5h7M504.5 347v7M501 340.5h7M504.5 337v7M501 330.5h7M504.5 327v7M501 325.5h7M504.5 322v7M503 369.5h7M506.5 366v7M503 364.5h7M506.5 361v7M503 359.5h7M506.5 356v7M503 345.5h7M506.5 342v7M506 369.5h7M509.5 366v7M506 364.5h7M509.5 361v7M506 359.5h7M509.5 356v7M506 350.5h7M509.5 347v7M506 345.5h7M509.5 342v7M506 330.5h7M509.5 327v7M509 374.5h7M512.5 371v7M509 369.5h7M512.5 366v7M509 364.5h7M512.5 361v7M509 354.5h7M512.5 351v7M509 340.5h7M512.5 337v7M509 335.5h7M512.5 332v7M512 379.5h7M515.5 376v7M512 374.5h7M515.5 371v7M512 369.5h7M515.5 366v7M512 364.5h7M515.5 361v7M512 354.5h7M515.5 351v7M512 350.5h7M515.5 347v7M512 345.5h7M515.5 342v7M512 330.5h7M515.5 327v7M515 379.5h7M518.5 376v7M515 374.5h7M518.5 371v7M515 369.5h7M518.5 366v7M515 364.5h7M518.5 361v7M515 359.5h7M518.5 356v7M515 354.5h7M518.5 351v7M515 345.5h7M518.5 342v7M515 335.5h7M518.5 332v7M518 384.5h7M521.5 381v7M518 374.5h7M521.5 371v7M518 369.5h7M521.5 366v7M518 354.5h7M521.5 351v7M518 350.5h7M521.5 347v7M518 330.5h7M521.5 327v7M521 374.5h7M524.5 371v7M521 359.5h7M524.5 356v7M521 330.5h7M524.5 327v7M524 374.5h7M527.5 371v7M524 364.5h7M527.5 361v7M524 359.5h7M527.5 356v7M524 345.5h7M527.5 342v7M527 379.5h7M530.5 376v7M527 374.5h7M530.5 371v7M527 364.5h7M530.5 361v7M527 354.5h7M530.5 351v7M530 379.5h7M533.5 376v7M530 369.5h7M533.5 366v7M530 364.5h7M533.5 361v7M533 384.5h7M536.5 381v7M533 379.5h7M536.5 376v7M533 369.5h7M536.5 366v7M533 364.5h7M536.5 361v7M533 359.5h7M536.5 356v7M536 394.5h7M539.5 391v7M536 389.5h7M539.5 386v7M536 384.5h7M539.5 381v7M536 379.5h7M539.5 376v7M536 364.5h7M539.5 361v7M539 394.5h7M542.5 391v7M539 389.5h7M542.5 386v7M539 384.5h7M542.5 381v7M539 379.5h7M542.5 376v7M539 374.5h7M542.5 371v7M542 399.5h7M545.5 396v7M542 394.5h7M545.5 391v7M542 389.5h7M545.5 386v7M542 384.5h7M545.5 381v7M544 404.5h7M547.5 401v7M544 399.5h7M547.5 396v7M544 394.5h7M547.5 391v7M547 409.5h7M550.5 406v7M547 404.5h7M550.5 401v7M547 399.5h7M550.5 396v7M547 394.5h7M550.5 391v7M550 409.5h7M553.5 406v7M550 404.5h7M553.5 401v7M550 399.5h7M553.5 396v7M550 394.5h7M553.5 391v7M550 389.5h7M553.5 386v7M553 409.5h7M556.5 406v7M553 404.5h7M556.5 401v7M553 399.5h7M556.5 396v7M553 394.5h7M556.5 391v7M553 389.5h7M556.5 386v7M556 409.5h7M559.5 406v7M556 404.5h7M559.5 401v7M556 399.5h7M559.5 396v7M556 394.5h7M559.5 391v7M556 389.5h7M559.5 386v7M559 409.5h7M562.5 406v7M559 404.5h7M562.5 401v7M559 399.5h7M562.5 396v7M559 394.5h7M562.5 391v7M562 409.5h7M565.5 406v7M562 404.5h7M565.5 401v7M562 399.5h7M565.5 396v7M562 394.5h7M565.5 391v7M565 409.5h7M568.5 406v7M565 404.5h7M568.5 401v7M565 399.5h7M568.5 396v7M565 394.5h7M568.5 391v7M568 409.5h7M571.5 406v7M568 404.5h7M571.5 401v7M568 399.5h7M571.5 396v7M571 409.5h7M574.5 406v7M571 404.5h7M574.5 401v7M571 399.5h7M574.5 396v7M574 414.5h7M577.5 411v7M574 409.5h7M577.5 406v7M574 404.5h7M577.5 401v7M574 399.5h7M577.5 396v7M577 414.5h7M580.5 411v7M577 409.5h7M580.5 406v7M577 404.5h7M580.5 401v7M580 414.5h7M583.5 411v7M580 409.5h7M583.5 406v7M583 414.5h7M586.5 411v7M583 409.5h7M586.5 406v7M585 414.5h7M588.5 411v7M585 409.5h7M588.5 406v7M588 414.5h7M591.5 411v7M588 409.5h7M591.5 406v7M591 414.5h7M594.5 411v7M591 409.5h7M594.5 406v7M594 414.5h7M597.5 411v7M597 414.5h7M600.5 411v7M597 409.5h7M600.5 406v7M600 414.5h7M603.5 411v7M600 409.5h7M603.5 406v7" fill="none" stroke="#00c000" stroke-width="1" shape-rendering="crispEdges"/>
<path d="M79.5 22.5H606.5V419.5H79.5ZM79.5 420v-5M79.5 22v5M138.5 420v-5M138.5 22v5M196.5 420v-5M196.5 22v5M255.5 420v-5M255.5 22v5M313.5 420v-5M313.5 22v5M372.5 420v-5M372.5 22v5M430.5 420v-5M430.5 22v5M489.5 420v-5M489.5 22v5M547.5 420v-5M547.5 22v5M606.5 420v-5M606.5 22v5M79 419.5h5M607 419.5h-5M79 369.5h5M607 369.5h-5M79 320.5h5M607 320.5h-5M79 270.5h5M607 270.5h-5M79 220.5h5M607 220.5h-5M79 171.5h5M607 171.5h-5M79 121.5h5M607 121.5h-5M79 72.5h5M607 72.5h-5M79 22.5h5M607 22.5h-5" fill="none" stroke="#000" stroke-width="1" shape-rendering="crispEdges"/>
<text transform="translate(79.90,443.00) scale(1.110,1)" text-anchor="middle" font-size="16.50" letter-spacing="0.40">0</text>
<text transform="translate(138.45,443.00) scale(1.110,1)" text-anchor="middle" font-size="16.50" letter-spacing="0.40">20</text>
<text transform="translate(196.45,443.00) scale(1.110,1)" text-anchor="middle" font-size="16.50" letter-spacing="0.40">40</text>
<text transform="translate(255.45,443.00) scale(1.110,1)" text-anchor="middle" font-size="16.50" letter-spacing="0.40">60</text>
<text transform="translate(313.45,443.00) scale(1.110,1)" text-anchor="middle" font-size="16.50" letter-spacing="0.40">80</text>
<text transform="translate(372.30,443.00) scale(1.110,1)" text-anchor="middle" font-size="16.50" letter-spacing="0.40">100</text>
<text transform="translate(430.30,443.00) scale(1.110,1)" text-anchor="middle" font-size="16.50" letter-spacing="0.40">120</text>
<text transform="translate(489.30,443.00) scale(1.110,1)" text-anchor="middle" font-size="16.50" letter-spacing="0.40">140</text>
<text transform="translate(547.30,443.00) scale(1.110,1)" text-anchor="middle" font-size="16.50" letter-spacing="0.40">160</text>
<text transform="translate(606.30,443.00) scale(1.110,1)" text-anchor="middle" font-size="16.50" letter-spacing="0.40">180</text>
<text transform="translate(65.30,423.60) scale(1.110,1)" text-anchor="end" font-size="16.50" letter-spacing="0.40">0</text>
<text transform="translate(64.40,373.60) scale(1.110,1)" text-anchor="end" font-size="16.50" letter-spacing="0.40">10</text>
<text transform="translate(64.40,324.60) scale(1.110,1)" text-anchor="end" font-size="16.50" letter-spacing="0.40">20</text>
<text transform="translate(64.40,274.60) scale(1.110,1)" text-anchor="end" font-size="16.50" letter-spacing="0.40">30</text>
<text transform="translate(64.40,224.60) scale(1.110,1)" text-anchor="end" font-size="16.50" letter-spacing="0.40">40</text>
<text transform="translate(64.40,175.60) scale(1.110,1)" text-anchor="end" font-size="16.50" letter-spacing="0.40">50</text>
<text transform="translate(64.40,125.60) scale(1.110,1)" text-anchor="end" font-size="16.50" letter-spacing="0.40">60</text>
<text transform="translate(64.40,76.60) scale(1.110,1)" text-anchor="end" font-size="16.50" letter-spacing="0.40">70</text>
<text transform="translate(64.40,26.60) scale(1.110,1)" text-anchor="end" font-size="16.50" letter-spacing="0.40">80</text>
<text transform="translate(341.90,471.20) scale(1.040,1)" text-anchor="middle" font-size="16.50" letter-spacing="0.85">pixels</text>
<text transform="translate(18.10,221.90) rotate(-90) scale(1.040,1)" text-anchor="middle" font-size="16.50" letter-spacing="1.20">intensity</text>
</svg></body></html>
